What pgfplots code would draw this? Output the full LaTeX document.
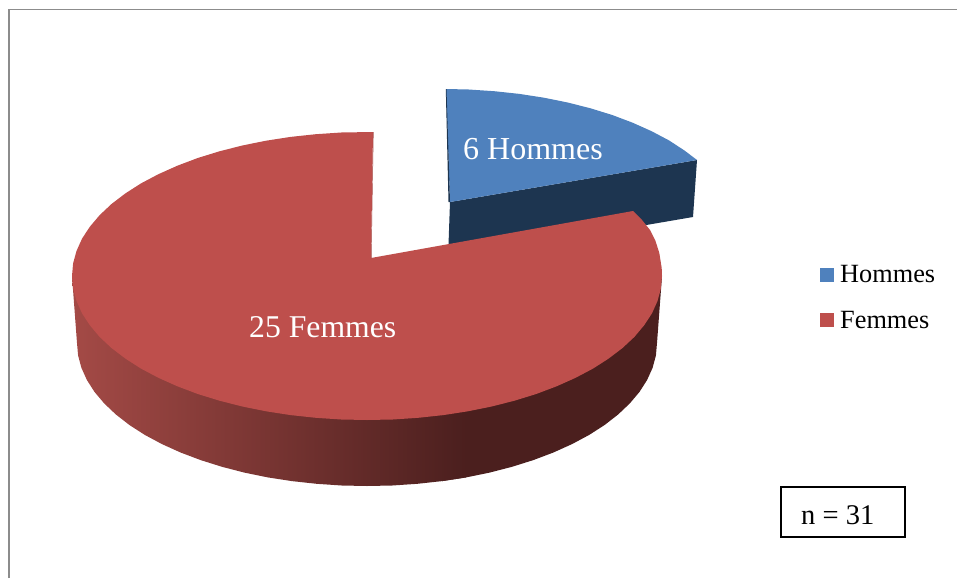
\documentclass[border=0pt]{standalone}
\usepackage{fontspec}
\setmainfont{Liberation Serif}
\usepackage{pgfplots}
\pgfplotsset{compat=1.18}
\definecolor{redtop}{HTML}{BE4F4C}
\definecolor{bluetop}{HTML}{4F81BD}
\definecolor{bluewall}{HTML}{1D3550}
\definecolor{wallL}{HTML}{A44A46}
\definecolor{wallR}{HTML}{4B1F1E}
\definecolor{frame}{HTML}{8C8C8C}
\begin{document}
\begin{tikzpicture}
\begin{axis}[
  scale only axis, width=957pt, height=578pt,
  xmin=0, xmax=957, ymin=0, ymax=578, y dir=reverse,
  hide axis, clip=true,
  legend cell align=left,
  legend image code/.code={\fill[#1] (0pt,-7pt) rectangle (14pt,7pt); \path (18pt,0pt);},
  legend style={at={(820/957,1-263/578)}, anchor=north west, draw=none, fill=none,
    font=\fontsize{26.3}{30}\selectfont, row sep=23pt, inner sep=0pt,
    nodes={inner sep=2pt}},
]
\path (rel axis cs:0,0) rectangle (rel axis cs:1,1);
% frame
\addplot[forget plot, frame, line width=1.6pt] coordinates {(8.8,578) (8.8,9.6) (957,9.6)};
% blue wall
\addplot[forget plot, draw=none, fill=bluewall] coordinates {(450,202) (697,160) (693,217) (448,259)};
% blue top
\addplot[draw=none, fill=bluetop] coordinates {
(446,89) (468.7,89.5) (494.2,91.2) (519.4,93.9) (543.9,97.7) (567.7,102.5) (590.5,108.3)
(612.2,115) (632.6,122.7) (651.6,131.2) (669,140.4) (684.6,150.6) (697,160) (450,202)};
\addlegendentry{Hommes}
\addplot[forget plot, draw=none, fill=bluewall] coordinates {(445.8,89) (446.5,89) (450,202) (448.5,202)};
% red wall, flat right part
\addplot[forget plot, draw=none, fill=wallR] coordinates {
(442.1,481.1) (466.2,477.4) (489.6,472.6) (512,466.8) (533.3,460.1) (553.4,452.5) (572,444.1)
(589.2,434.9) (604.6,425) (618.1,414.5) (629.8,403.4) (639.5,391.9) (647.1,380) (652.6,367.8)
(655.9,355.5) (657,343) (662,276) (442.1,380)};
% red wall, shaded left part
\addplot[forget plot, draw=none, left color=wallL, right color=wallR] coordinates {
(72,276) (77,343) (78.1,355.5) (81.4,367.8) (86.9,380) (94.5,391.9) (104.2,403.4) (115.9,414.5)
(129.4,425) (144.8,434.9) (162,444.1) (180.6,452.5) (200.7,460.1) (222,466.8) (244.4,472.6)
(267.8,477.4) (291.9,481.1) (316.6,483.8) (341.7,485.5) (367,486) (392.3,485.5) (417.4,483.8)
(442.1,481.1) (466.2,477.4) (466.2,380)};
% red top
\addplot[draw=none, fill=redtop] coordinates {
(373,132) (341.3,132.5) (315.8,134.2) (290.6,136.9) (266.1,140.7) (242.3,145.5) (219.5,151.3)
(197.8,158) (177.4,165.7) (158.4,174.2) (141,183.4) (125.4,193.4) (111.5,204) (99.6,215.2)
(89.8,226.8) (82,238.7) (76.5,251) (73.1,263.4) (72,276) (73.1,288.6) (76.5,301) (82,313.3)
(89.8,325.2) (99.6,336.9) (111.5,348) (125.4,358.6) (141,368.6) (158.4,377.8) (177.4,386.3)
(197.8,394) (219.5,400.7) (242.3,406.5) (266.1,411.3) (290.6,415.1) (315.8,417.8) (341.3,419.5)
(367,420) (392.7,419.5) (418.2,417.8) (443.4,415.1) (467.9,411.3) (491.7,406.5) (514.5,400.7)
(536.2,394) (556.6,386.3) (575.6,377.8) (593,368.6) (608.6,358.6) (622.5,348) (634.4,336.9)
(644.2,325.2) (652,313.3) (657.5,301) (660.9,288.6) (662,276) (661.7,268) (659.3,253) (655.5,241) (650,230)
(642,220) (633,211) (371,258)};
\addlegendentry{Femmes}
\addplot[forget plot, draw=none, fill=wallL] coordinates {(373,132) (373.6,132) (372.4,200) (371.5,258) (371,258) (372,200)};
% n box
\addplot[forget plot, black, line width=2pt, fill=white] coordinates {(781,487) (905,487) (905,537) (781,537)} --cycle;
\node[anchor=base west, inner sep=0pt, white, font=\fontsize{32}{36}\selectfont] at (axis cs:463,159) {6 Hommes};
\node[anchor=base west, inner sep=0pt, white, font=\fontsize{31.7}{36}\selectfont] at (axis cs:249,337) {25 Femmes};
\node[anchor=base west, inner sep=0pt, font=\fontsize{28.5}{32}\selectfont] at (axis cs:801,524) {n = 31};
\end{axis}
\end{tikzpicture}
\end{document}
